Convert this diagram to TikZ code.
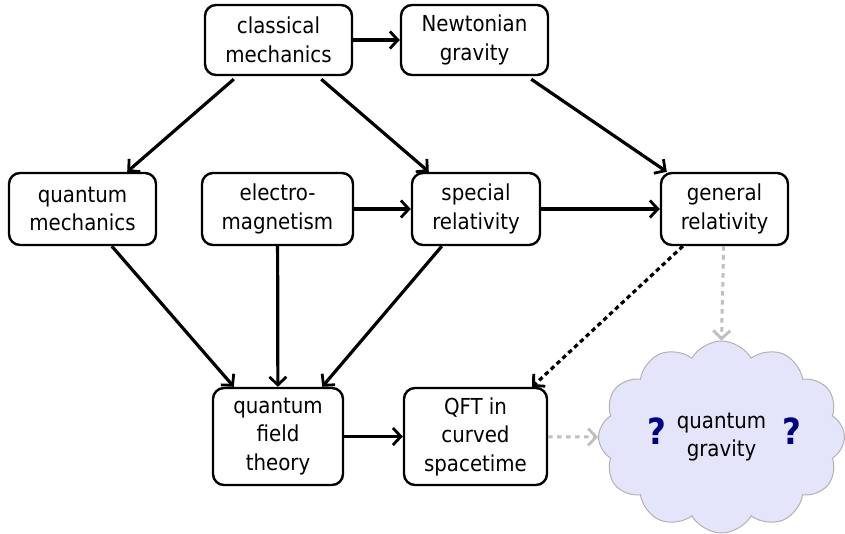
\documentclass[tikz,border=0pt]{standalone}
\usepackage{fontspec}
\setmainfont{DejaVu Sans Condensed}
\usetikzlibrary{arrows.meta,shapes.symbols}
\begin{document}
\begin{tikzpicture}[x=1pt,y=-1pt,
  topic/.style={draw, line width=2.4pt, rounded corners=11pt, fill=white,
    align=center, inner sep=0pt, font=\fontsize{22}{28.5}\selectfont},
  tip/.style={-{Straight Barb[length=8pt,width=17pt,line width=2.8pt]}},
  link/.style={line width=3.2pt, tip},
  guess/.style={link, dash pattern=on 4.5pt off 3.5pt},
  hint/.style={line width=3pt, draw=black!25, dash pattern=on 4.5pt off 4.5pt, tip},
  qmark/.style={font=\fontsize{36}{36}\bfseries\selectfont, text={rgb,255:red,0;green,0;blue,128}}
]
\useasboundingbox (0,0) rectangle (845,534);

\node[topic, minimum width=147pt, minimum height=70pt] (cm) at (278.5,40) {classical\\mechanics};
\node[topic, minimum width=147pt, minimum height=70pt] (ng) at (474.5,40) {Newtonian\\gravity};
\node[topic, minimum width=147pt, minimum height=72pt] (qm) at (82.5,209) {quantum\\mechanics};
\node[topic, minimum width=151pt, minimum height=72pt] (em) at (277.5,209) {electro-\\magnetism};
\node[topic, minimum width=128pt, minimum height=72pt] (sr) at (476,209) {special\\relativity};
\node[topic, minimum width=127pt, minimum height=72pt] (gr) at (724.5,209) {general\\relativity};
\node[topic, minimum width=130pt, minimum height=97pt] (qft) at (278,436.5) {quantum\\field\\theory};
\node[topic, minimum width=143pt, minimum height=97pt] (qc) at (475.5,436.5) {QFT in\\curved\\spacetime};

\node[cloud, cloud puffs=12, cloud puff arc=120, aspect=1.27,
  draw=black!30, line width=1pt, fill={rgb,255:red,228;green,228;blue,250},
  minimum width=246pt, minimum height=192pt, inner sep=0pt,
  align=center, font=\fontsize{22}{28.5}\selectfont] (qg) at (721.5,437) {quantum\\gravity};
\node[qmark] (q1) at (657,431) {?};
\node[qmark] (q2) at (792,431) {?};

\draw[link] (cm) -- (ng);
\draw[link] ([xshift=30pt,yshift=-3pt]cm.south west) -- ([xshift=-30pt]qm.north east);
\draw[link] ([xshift=-32pt,yshift=-3pt]cm.south east) -- ([xshift=18pt]sr.north west);
\draw[link] ([xshift=-18pt,yshift=-3pt]ng.south east) -- ([xshift=7pt]gr.north west);
\draw[link] (em) -- (sr);
\draw[link] (sr) -- (gr);
\draw[link] ([xshift=104pt]qm.south west) -- ([xshift=22pt]qft.north west);
\draw[link] (em) -- (qft);
\draw[link] ([xshift=31pt]sr.south west) -- ([xshift=-22pt]qft.north east);
\draw[link] (qft) -- (qc);
\draw[guess] ([xshift=23pt]gr.south west) -- ([xshift=-16pt]qc.north east);
\draw[hint] (gr) -- (qg.north);
\draw[hint] (qc) -- (qg.west);
\end{tikzpicture}
\end{document}
